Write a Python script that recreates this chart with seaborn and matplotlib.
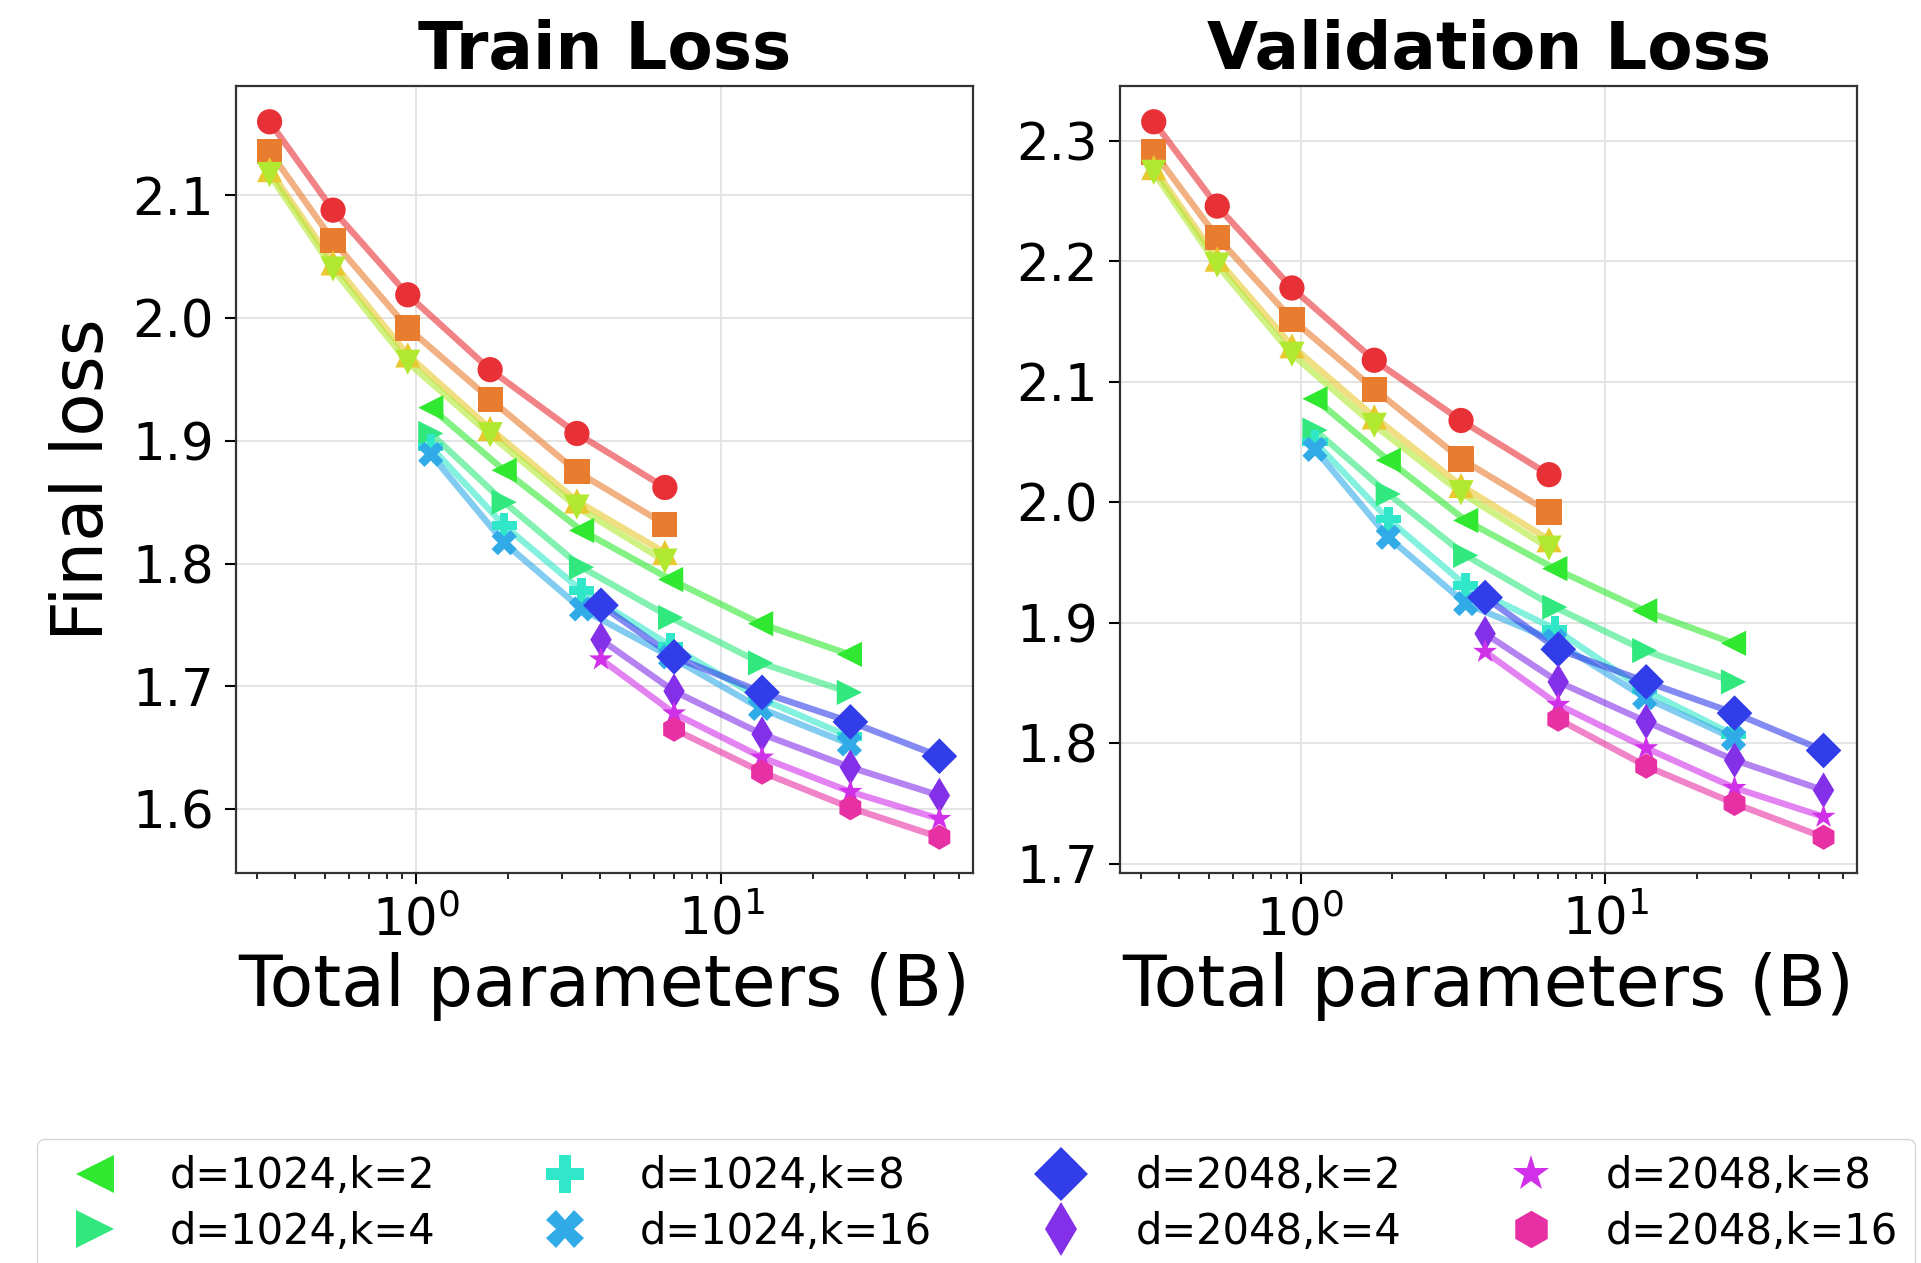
import colorsys
import numpy as np
import pandas as pd
import matplotlib
matplotlib.use("Agg")
import matplotlib.pyplot as plt
from matplotlib.lines import Line2D
from matplotlib.ticker import MultipleLocator
import seaborn as sns

# total parameters (B) for each model width
params_d512 = [0.33, 0.533, 0.937, 1.745, 3.36, 6.53]
params_d1024 = [1.115, 1.94, 3.48, 6.82, 13.45, 26.3]
params_d2048 = [4.03, 7.0, 13.6, 26.5, 51.9]

ks = [2, 4, 8, 16]
series_markers = ['o', 's', '^', 'v', '<', '>', 'P', 'X', 'D', 'd', '*', 'h']
series_hues = [358, 25, 50, 78, 120, 145, 170, 200, 236, 267, 292, 322]

# final train loss, one list per k (k=2,4,8,16)
train_d512 = [[2.160, 2.088, 2.019, 1.958, 1.906, 1.862],
              [2.136, 2.063, 1.992, 1.934, 1.875, 1.832],
              [2.121, 2.045, 1.970, 1.910, 1.851, 1.809],
              [2.117, 2.040, 1.964, 1.905, 1.846, 1.802]]
train_d1024 = [[1.927, 1.876, 1.827, 1.787, 1.751, 1.726],
               [1.906, 1.850, 1.797, 1.756, 1.719, 1.695],
               [1.895, 1.831, 1.778, 1.733, 1.690, 1.659],
               [1.889, 1.817, 1.763, 1.724, 1.682, 1.653]]
train_d2048 = [[1.766, 1.724, 1.695, 1.671, 1.643],
               [1.738, 1.696, 1.661, 1.634, 1.611],
               [1.722, 1.678, 1.642, 1.614, 1.592],
               [np.nan, 1.665, 1.630, 1.601, 1.577]]

# final validation loss
val_d512 = [[2.316, 2.246, 2.178, 2.118, 2.068, 2.023],
            [2.291, 2.220, 2.152, 2.094, 2.036, 1.992],
            [2.278, 2.202, 2.130, 2.071, 2.014, 1.969],
            [2.274, 2.197, 2.123, 2.064, 2.008, 1.962]]
val_d1024 = [[2.086, 2.035, 1.985, 1.945, 1.910, 1.883],
             [2.060, 2.007, 1.956, 1.913, 1.877, 1.851],
             [2.050, 1.986, 1.931, 1.895, 1.844, 1.807],
             [2.044, 1.971, 1.916, 1.885, 1.838, 1.804]]
val_d2048 = [[1.921, 1.878, 1.851, 1.825, 1.794],
             [1.891, 1.851, 1.818, 1.786, 1.761],
             [1.876, 1.832, 1.796, 1.763, 1.739],
             [np.nan, 1.820, 1.781, 1.750, 1.722]]

# build a long table
rows = []
labels = []
groups = [(512, params_d512, train_d512, val_d512),
          (1024, params_d1024, train_d1024, val_d1024),
          (2048, params_d2048, train_d2048, val_d2048)]
for d, xs, tr, va in groups:
    for k, ytr, yva in zip(ks, tr, va):
        lab = f"d={d},k={k}"
        labels.append(lab)
        for x, a, b in zip(xs, ytr, yva):
            rows.append((lab, x, a, "train"))
            rows.append((lab, x, b, "val"))
df = pd.DataFrame(rows, columns=["series", "params", "loss", "split"]).dropna()

sns.set_theme(style="ticks", rc={"axes.grid": True, "grid.color": "#e2e2e2",
                                 "grid.linewidth": 1.3, "axes.edgecolor": "#333333",
                                 "axes.linewidth": 1.6, "text.color": "black",
                                 "axes.labelcolor": "black", "xtick.color": "black",
                                 "ytick.color": "black"})
plt.rcParams['font.family'] = ['DejaVu Sans']

pal = dict(zip(labels, [colorsys.hls_to_rgb(h / 360, 0.55, 0.8) for h in series_hues]))
mk = dict(zip(labels, series_markers))

fig, axes = plt.subplots(1, 2, figsize=(19.21, 12.63), dpi=100)
fig.subplots_adjust(left=0.1229, right=0.9667, bottom=0.3088, top=0.9319, wspace=0.2)

for ax, split, title in zip(axes, ["train", "val"], ["Train Loss", "Validation Loss"]):
    sub = df[df.split == split]
    ax.set_xscale("log")
    sns.lineplot(data=sub, x="params", y="loss", hue="series", hue_order=labels,
                 palette=pal, lw=4.6, alpha=0.6, legend=False, errorbar=None, ax=ax)
    sns.scatterplot(data=sub, x="params", y="loss", hue="series", style="series",
                    hue_order=labels, style_order=labels, palette=pal, markers=mk,
                    s=330, linewidth=0, zorder=3, legend=False, ax=ax)
    ax.set_title(title, fontsize=47.5, fontweight="bold", pad=12)
    ax.set_xlabel("Total parameters (B)", fontsize=51.5)
    ax.set_ylabel("")
    ax.yaxis.set_major_locator(MultipleLocator(0.1))
    ax.tick_params(axis="both", which="major", labelsize=37, length=8, width=1.5, pad=8)
    ax.tick_params(axis="both", which="minor", length=4, width=1.2)
    ax.grid(True, which="major")
    ax.grid(False, which="minor")

axes[0].set_ylabel("Final loss", fontsize=51, labelpad=10)

# legend shows only the d=1024 and d=2048 runs
handles = [Line2D([], [], ls="none", marker=mk[l], markersize=27,
                  color=pal[l], markeredgewidth=0) for l in labels[4:]]
fig.legend(handles, labels[4:], loc="upper center", bbox_to_anchor=(0.508, 0.0985),
           ncol=4, fontsize=30, labelspacing=0.32, columnspacing=2.1,
           borderaxespad=0, borderpad=0.4, handletextpad=0.8, frameon=True)

fig.savefig("out.png", dpi=100)
